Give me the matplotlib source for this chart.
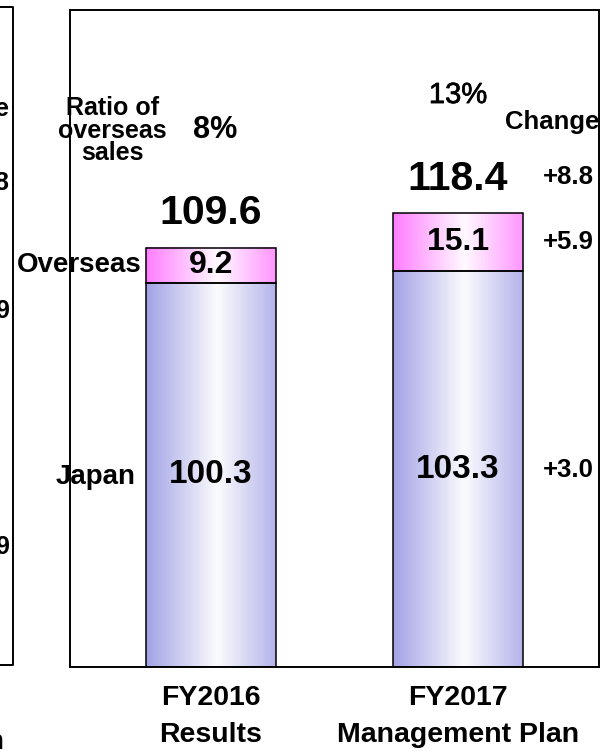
import numpy as np
import matplotlib.pyplot as plt
import matplotlib.patheffects as pe
from matplotlib.colors import to_rgb
from matplotlib.lines import Line2D

plt.rcParams['font.family'] = ['Liberation Sans', 'DejaVu Sans']

# data
years = ["FY2016\nResults", "FY2017\nManagement Plan"]
japan = [100.3, 103.3]
overseas = [9.2, 15.1]
totals = [109.6, 118.4]
ratio = ["8%", "13%"]
change_japan = "+3.0"
change_overseas = "+5.9"
change_total = "+8.8"
# fragments of the neighbouring chart cut off at the left edge
left_bits = ["e", "8", "9", "9"]
left_bits_y = [109, 183, 311, 547]


def gradient(edge, n=200, peak=0.55, right_w=0.8):
    # horizontal shading: colour at the edges, nearly white in the middle
    t = np.linspace(0, 1, n)
    w = np.where(t < peak, 1 - t / peak, right_w * (t - peak) / (1 - peak))
    w = 0.04 + 0.96 * w
    c = np.array(to_rgb(edge))
    img = (1 - w[:, None]) * np.ones(3) + w[:, None] * c
    return img[None, :, :]


W, H = 601, 751
fig = plt.figure(figsize=(W / 100, H / 100), dpi=100)
ax = fig.add_axes([70 / W, 1 - 667 / H, 529 / W, 657 / H])
ax.set_xlim(-0.571, 1.571)
ax.set_ylim(0, 171.5)
ax.set_xticks([])
ax.set_yticks([])
for s in ax.spines.values():
    s.set_linewidth(1.4)

bw = 0.526
blue_img = gradient("#a2a2e6")
pink_img = gradient("#ff7dff")
for i in range(2):
    x0, x1 = i - bw / 2, i + bw / 2
    ax.imshow(blue_img, extent=(x0, x1, 0, japan[i]), aspect="auto", zorder=1)
    ax.imshow(pink_img, extent=(x0, x1, japan[i], japan[i] + overseas[i]),
              aspect="auto", zorder=1)
    ax.bar(i, japan[i], width=bw, facecolor="none", edgecolor="black",
           linewidth=1.1, zorder=2)
    ax.bar(i, overseas[i], bottom=japan[i], width=bw, facecolor="none",
           edgecolor="black", linewidth=1.1, zorder=2)

    ax.text(i, japan[i] / 2, f"{japan[i]}", ha="center", va="center",
            fontsize=24, fontweight="bold", zorder=3)
    ax.text(i, japan[i] + overseas[i] / 2, f"{overseas[i]}", ha="center",
            va="center", fontsize=23, fontweight="bold", zorder=3)
    ax.text(i, totals[i] + 8.9, f"{totals[i]}", ha="center", va="center",
            fontsize=29.5, fontweight="bold", zorder=3)
    if i == 0:
        ax.text(i + 0.017, totals[i] + 30.6, ratio[i], ha="center",
                va="center", fontsize=22, fontweight="bold", zorder=3)
    else:
        ax.text(i, totals[i] + 30.9, ratio[i], ha="center", va="center",
                fontsize=21, zorder=3,
                path_effects=[pe.withStroke(linewidth=0.5,
                                            foreground="black")])
    ax.text(i, -4.8, years[i], ha="center", va="top", fontsize=20.5,
            fontweight="bold", linespacing=1.52, clip_on=False)

# labels on the left
ax.text(-0.40, 140.0, "Ratio of\noverseas\nsales", ha="center", va="center",
        fontsize=18, fontweight="bold", linespacing=0.92, clip_on=False)
ax.text(-0.535, japan[0] + overseas[0] / 2, "Overseas", ha="center",
        va="center", fontsize=20, fontweight="bold", clip_on=False)
ax.text(-0.468, japan[0] / 2 - 0.6, "Japan", ha="center", va="center",
        fontsize=20, fontweight="bold", clip_on=False)

# change column on the right
cx = 1.445
ax.text(1.38, 142.3, "Change", ha="center", va="center", fontsize=18.5,
        fontweight="bold")
ax.text(cx, totals[1] + 9.6, change_total, ha="center", va="center",
        fontsize=18.5, fontweight="bold")
ax.text(cx, japan[1] + overseas[1] / 2, change_overseas, ha="center",
        va="center", fontsize=18.5, fontweight="bold")
ax.text(cx, japan[1] / 2 - 0.2, change_japan, ha="center", va="center",
        fontsize=18.5, fontweight="bold")

# frame and text of the neighbouring chart, cut by the image edge
fig.add_artist(Line2D([0, 13 / W, 13 / W, 0],
                      [1 - 7 / H, 1 - 7 / H, 1 - 665 / H, 1 - 665 / H],
                      color="black", linewidth=1.4))
for txt, y in zip(left_bits, left_bits_y):
    fig.text(9 / W if txt != "8" else 8 / W, 1 - y / H, txt, ha="right",
             va="center", fontsize=18, fontweight="bold")
fig.text(3 / W, 1 - 742 / H, "n", ha="right", va="center", fontsize=20,
         fontweight="bold")

fig.savefig("out.png", dpi=100)
